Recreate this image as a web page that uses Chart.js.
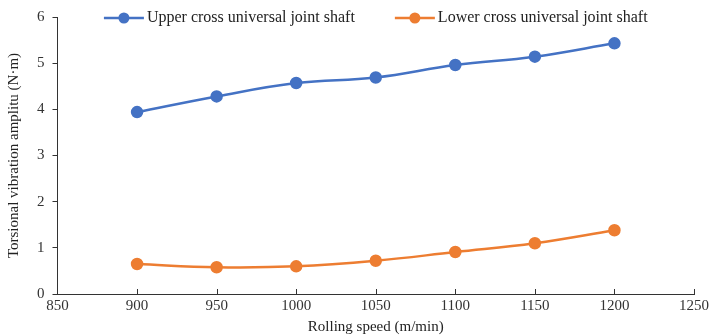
<!DOCTYPE html>
<html>
<head>
<meta charset="utf-8">
<script src="https://cdn.jsdelivr.net/npm/chart.js@4"></script>
<style>
  html, body { margin: 0; padding: 0; background: #fff; }
  #wrap { width: 712px; height: 336px; }
</style>
</head>
<body>
<div id="wrap"><canvas id="chart"></canvas></div>
<script>
// data
const speeds = [900, 950, 1000, 1050, 1100, 1150, 1200];
const upperShaft = [3.94, 4.28, 4.57, 4.69, 4.96, 5.14, 5.43];
const lowerShaft = [0.65, 0.58, 0.60, 0.72, 0.91, 1.10, 1.38];
const seriesNames = ["Upper cross universal joint shaft", "Lower cross universal joint shaft"];
const seriesColors = ["#4472c4", "#ed7d31"];

const FONT = "'Liberation Serif', 'Times New Roman', serif";

// x ticks point inward (up) like the original
const innerTicks = {
  id: "innerTicks",
  afterDraw(chart) {
    const x = chart.scales.x, y = chart.scales.y;
    const ctx = chart.ctx;
    ctx.save();
    ctx.strokeStyle = "#333";
    ctx.lineWidth = 1;
    x.ticks.forEach(t => {
      if (t.value === x.min) return;
      const px = Math.round(x.getPixelForValue(t.value)) + 0.5;
      ctx.beginPath();
      ctx.moveTo(px, y.bottom);
      ctx.lineTo(px, y.bottom - 5);
      ctx.stroke();
    });
    ctx.restore();
  }
};

// legend sits inside the plot, on its top edge
const insideLegend = {
  id: "insideLegend",
  afterDraw(chart) {
    const ctx = chart.ctx;
    const area = chart.chartArea;
    const markW = 40, gapText = 3, gapItem = 40;
    ctx.save();
    ctx.font = "16px " + FONT;
    const widths = chart.data.datasets.map(d => markW + gapText + ctx.measureText(d.label).width);
    const total = widths.reduce((a, b) => a + b, 0) + gapItem * (widths.length - 1);
    let x = (area.left + area.right) / 2 - total / 2;
    const y = area.top + 1;
    chart.data.datasets.forEach((d, i) => {
      ctx.strokeStyle = d.borderColor;
      ctx.lineWidth = 2.5;
      ctx.beginPath(); ctx.moveTo(x, y); ctx.lineTo(x + markW, y); ctx.stroke();
      ctx.fillStyle = d.borderColor;
      ctx.beginPath(); ctx.arc(x + markW / 2, y, 5.5, 0, Math.PI * 2); ctx.fill();
      ctx.fillStyle = "#222";
      ctx.textBaseline = "middle";
      ctx.fillText(d.label, x + markW + gapText, y);
      x += widths[i] + gapItem;
    });
    ctx.restore();
  }
};

const datasets = [upperShaft, lowerShaft].map((vals, i) => ({
  label: seriesNames[i],
  data: speeds.map((s, j) => ({ x: s, y: vals[j] })),
  borderColor: seriesColors[i],
  backgroundColor: seriesColors[i],
  borderWidth: 2.5,
  pointRadius: 5,
  pointHoverRadius: 5,
  tension: 0.4
}));

new Chart(document.getElementById("chart"), {
  type: "line",
  data: { datasets },
  plugins: [innerTicks, insideLegend],
  options: {
    responsive: true,
    maintainAspectRatio: false,
    animation: false,
    layout: { padding: { top: 0, right: 0, left: 5, bottom: 0 } },
    plugins: {
      legend: { display: false },
      tooltip: { enabled: false }
    },
    scales: {
      x: {
        type: "linear",
        min: 850,
        max: 1250,
        ticks: {
          stepSize: 50,
          font: { family: FONT, size: 15 },
          color: "#333",
          padding: 3,
          callback: v => String(v)
        },
        grid: { display: false, drawTicks: false },
        border: { color: "#333", width: 1 },
        title: {
          display: true,
          text: "Rolling speed (m/min)",
          font: { family: FONT, size: 15 },
          color: "#222",
          padding: { top: 0, bottom: 0 }
        }
      },
      y: {
        min: 0,
        max: 6,
        ticks: { stepSize: 1, font: { family: FONT, size: 15 }, color: "#333", padding: 8 },
        grid: { drawOnChartArea: false, tickLength: 5, color: "#333" },
        border: { color: "#333", width: 1 },
        title: {
          display: true,
          text: "Torsional vibration amplitu (N·m)",
          font: { family: FONT, size: 15 },
          color: "#222",
          padding: { top: 0, bottom: 6 }
        }
      }
    }
  }
});
</script>
</body>
</html>
